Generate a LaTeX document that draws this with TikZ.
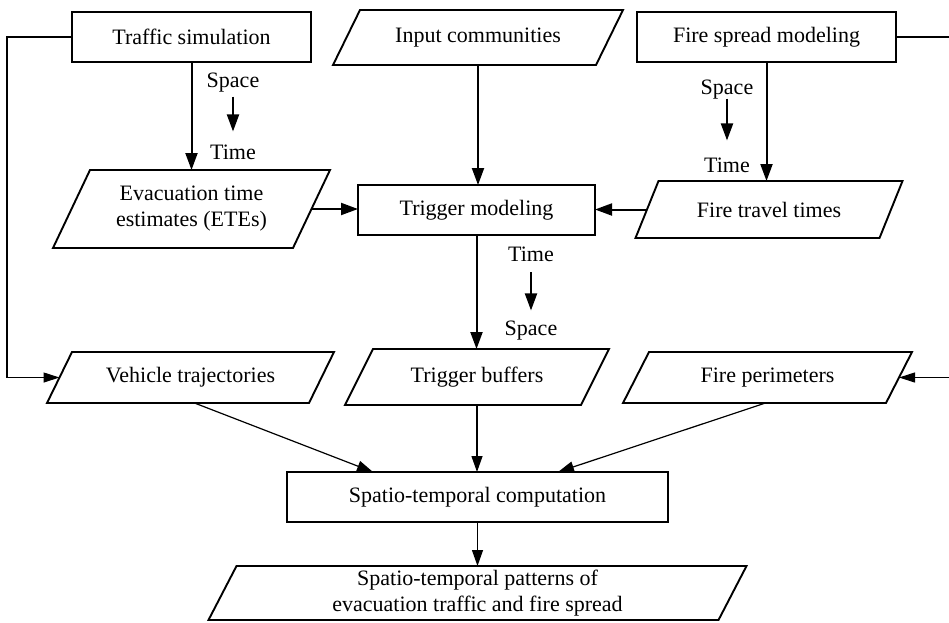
\documentclass[tikz,border=0pt]{standalone}
\usepackage{fontspec}
\setmainfont{Liberation Serif}
\usetikzlibrary{arrows.meta}
\newcommand\pgram[2]{\draw[line width=1.9pt, line join=miter] ([xshift=#2*0.5]#1.north west) -- ([xshift=#2*0.5]#1.north east) -- ([xshift=-#2*0.5]#1.south east) -- ([xshift=-#2*0.5]#1.south west) -- cycle;}
\begin{document}
\begin{tikzpicture}[x=1pt,y=-1pt,
  font=\fontsize{22}{26}\selectfont,
  rbox/.style={draw, line width=1.9pt, minimum width=#1, minimum height=50, inner sep=0, outer sep=0, align=center},
  pbox/.style={minimum width=#1, inner sep=0, outer sep=0, align=center},
  lbl/.style={inner sep=0, outer sep=0, anchor=base},
  conn/.style={line width=2pt, -{Triangle[length=17pt,width=12pt]}},
  conn2/.style={line width=1.2pt, -{Triangle[length=16pt,width=11pt]}},
  thinline/.style={line width=1.1pt, -{Triangle[length=16pt,width=10pt]}},
  smallarr/.style={line width=2pt, -{Triangle[length=17pt,width=12pt]}}
]
\useasboundingbox (0,0) rectangle (949,622);
% nodes
\node[rbox=239] (traffic) at (191.5,37) {Traffic simulation};
\node[pbox=263, minimum height=55] (input) at (478,37.5) {Input communities};
\node[rbox=259] (fire) at (766.5,37) {Fire spread modeling};
\node[pbox=240, minimum height=78] (ete) at (191.5,209) {Evacuation time\\estimates (ETEs)};
\node[rbox=237] (trig) at (476.5,210) {Trigger modeling};
\node[pbox=244, minimum height=57] (ftt) at (769,209.5) {Fire travel times};
\node[pbox=262, minimum height=51] (veh) at (190.5,377.5) {Vehicle trajectories};
\node[pbox=236, minimum height=56] (buf) at (477,377) {Trigger buffers};
\node[pbox=263, minimum height=51] (per) at (767.5,377.5) {Fire perimeters};
\node[rbox=381] (comp) at (477.5,497) {Spatio-temporal computation};
\node[pbox=510, minimum height=54] (pat) at (477.5,593) {Spatio-temporal patterns of\\evacuation traffic and fire spread};
% parallelogram outlines
\pgram{input}{27}
\pgram{ete}{37}
\pgram{ftt}{23}
\pgram{veh}{25}
\pgram{buf}{28}
\pgram{per}{26}
\pgram{pat}{28}
% space/time labels
\node[lbl] (s1) at (233,87) {Space};
\node[lbl] (t1) at (233,159) {Time};
\node[lbl] (s2) at (727,94) {Space};
\node[lbl] (t2) at (727,172) {Time};
\node[lbl] (t3) at (531,261) {Time};
\node[lbl] (s3) at (531,335) {Space};
\draw[smallarr, shorten <=5pt, shorten >=13pt] (s1.south) -- (t1.north);
\draw[smallarr, shorten <=0pt, shorten >=17pt] (s2.south) -- (t2.north);
\draw[smallarr, shorten <=11pt, shorten >=10pt] (t3.south) -- (s3.north);
% coordinates for side lines
\coordinate (lft) at (7,0);
\coordinate (rgt) at (960,0);
% connectors
\draw[conn] (traffic.south) -- (ete.north);
\draw[conn] (input.south) -- (input.south |- trig.north);
\draw[conn] (fire.south) -- (fire.south |- ftt.north);
\draw[conn] (ete.east) -- (ete.east -| trig.west);
\draw[conn] (ftt.west) -- (ftt.west -| trig.east);
\draw[conn] (trig.south) -- (trig.south |- buf.north);
\draw[thinline] (traffic.west) -- (traffic.west -| lft) |- (veh.west);
\draw[thinline] (fire.east) -- (fire.east -| rgt) |- (per.east);
\draw[conn2] ([xshift=4]veh.south) -- ([xshift=-104.5]comp.north);
\draw[conn2] ([xshift=-2]per.south) -- ([xshift=80.5]comp.north);
\draw[conn2] (buf.south) -- (buf.south |- comp.north);
\draw[conn2] (comp.south) -- (pat.north);
\end{tikzpicture}
\end{document}
